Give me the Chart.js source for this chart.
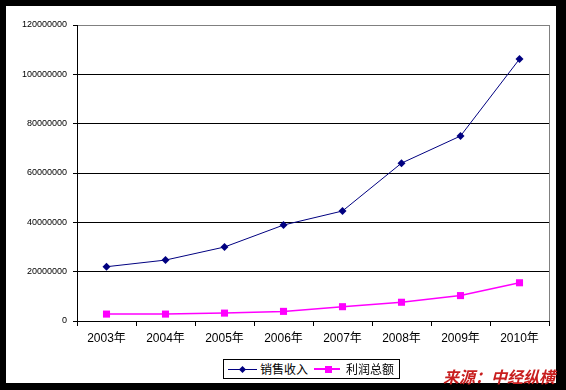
<!DOCTYPE html>
<html>
<head>
<meta charset="utf-8">
<script src="https://cdn.jsdelivr.net/npm/chart.js@4"></script>
<style>
  html, body { margin: 0; padding: 0; }
  body { width: 566px; height: 390px; background: #000; position: relative; overflow: hidden; }
  #frame { position: absolute; left: 6px; top: 6px; width: 550px; height: 377px; background: #fff; }
  #legend {
    position: absolute; left: 223px; top: 359px; width: 177px; height: 20px;
    box-sizing: border-box; border: 1px solid #000; background: #fff;
    font: 12px "Noto Sans CJK SC", sans-serif; color: #000;
  }
  #legend .line { position: absolute; top: 9px; height: 0; }
  #legend .mark { position: absolute; }
  #legend .txt { position: absolute; top: 0; line-height: 18px; white-space: nowrap; }
  #source {
    position: absolute; left: 443px; top: 368px;
    font: italic bold 16px "Noto Sans CJK SC", sans-serif; line-height: 16px;
    color: #c81e1e; white-space: nowrap;
  }
</style>
</head>
<body>
<div id="frame"><canvas id="chart" width="550" height="377"></canvas></div>
<div id="legend"></div>
<div id="source">来源：中经纵横</div>
<script>
// 年份（横轴）
const years = ['2003年', '2004年', '2005年', '2006年', '2007年', '2008年', '2009年', '2010年'];

// 两个系列
const salesRevenue = [22000000, 24700000, 30000000, 38900000, 44600000, 64000000, 75000000, 106200000];
const totalProfit = [2800000, 2800000, 3200000, 3900000, 5800000, 7600000, 10300000, 15500000];

// 纵轴刻度
const yMax = 120000000;
const yStep = 20000000;

const seriesNames = ['销售收入', '利润总额'];
const navy = '#000080';
const magenta = '#ff00ff';

// 绘图区右边的灰色边线
const plotBorder = {
  id: 'plotBorder',
  afterDraw(chart) {
    const { ctx, chartArea: a } = chart;
    ctx.save();
    ctx.strokeStyle = '#808080';
    ctx.lineWidth = 1;
    ctx.beginPath();
    ctx.moveTo(Math.round(a.right) + 0.5, a.top);
    ctx.lineTo(Math.round(a.right) + 0.5, a.bottom);
    ctx.stroke();
    ctx.restore();
  },
};

const ctx = document.getElementById('chart').getContext('2d');

const chart = new Chart(ctx, {
  type: 'line',
  data: {
    labels: years,
    datasets: [
      {
        label: seriesNames[0],
        data: salesRevenue,
        borderColor: navy,
        backgroundColor: navy,
        borderWidth: 1,
        pointStyle: 'rectRot',
        pointRadius: 4,
        pointBorderWidth: 0,
        tension: 0,
      },
      {
        label: seriesNames[1],
        data: totalProfit,
        borderColor: magenta,
        backgroundColor: magenta,
        borderWidth: 1.5,
        pointStyle: 'rect',
        pointRadius: 5,
        pointBorderWidth: 0,
        tension: 0,
      },
    ],
  },
  options: {
    responsive: false,
    animation: false,
    devicePixelRatio: 1,
    layout: { padding: { left: 0, top: 19, right: 7, bottom: 0 } },
    plugins: {
      legend: { display: false },
      tooltip: { enabled: false },
    },
    scales: {
      x: {
        offset: true,
        grid: {
          offset: true,
          drawOnChartArea: false,
          drawTicks: true,
          tickLength: 5,
          tickColor: '#000',
        },
        border: { color: '#000', width: 1 },
        ticks: {
          color: '#000',
          padding: 5,
          maxRotation: 0,
          font: { family: '"Liberation Sans", "Noto Sans CJK SC"', size: 12 },
        },
        afterFit: (s) => { s.height = 62; },
      },
      y: {
        min: 0,
        max: yMax,
        grid: {
          color: (c) => (c.tick && c.tick.value === yMax ? '#808080' : '#000'),
          tickColor: '#000',
          tickLength: 4,
        },
        border: { color: '#000', width: 1 },
        ticks: {
          stepSize: yStep,
          color: '#000',
          padding: 6,
          font: { family: '"Liberation Sans"', size: 9 },
          callback: (v) => String(v),
        },
        afterFit: (s) => { s.width = 71; },
      },
    },
  },
  plugins: [plotBorder],
});

// 图例（带边框），从数据集生成
const legend = document.getElementById('legend');
const legendSpots = [
  { line: [4, 33], mark: 18, text: 36 },
  { line: [90, 116], mark: 104, text: 122 },
];
chart.data.datasets.forEach((ds, i) => {
  const spot = legendSpots[i];
  const line = document.createElement('div');
  line.className = 'line';
  line.style.left = spot.line[0] + 'px';
  line.style.width = (spot.line[1] - spot.line[0]) + 'px';
  line.style.borderTop = (i === 0 ? 1 : 2) + 'px solid ' + ds.borderColor;
  line.style.top = (i === 0 ? 9 : 8) + 'px';
  legend.appendChild(line);

  const mark = document.createElement('div');
  mark.className = 'mark';
  mark.style.background = ds.backgroundColor;
  if (ds.pointStyle === 'rectRot') {
    mark.style.width = '5px';
    mark.style.height = '5px';
    mark.style.left = (spot.mark - 2) + 'px';
    mark.style.top = '7px';
    mark.style.transform = 'rotate(45deg)';
  } else {
    mark.style.width = '7px';
    mark.style.height = '7px';
    mark.style.left = (spot.mark - 3) + 'px';
    mark.style.top = '6px';
  }
  legend.appendChild(mark);

  const txt = document.createElement('div');
  txt.className = 'txt';
  txt.style.left = spot.text + 'px';
  txt.innerText = ds.label;
  legend.appendChild(txt);
});
</script>
</body>
</html>
